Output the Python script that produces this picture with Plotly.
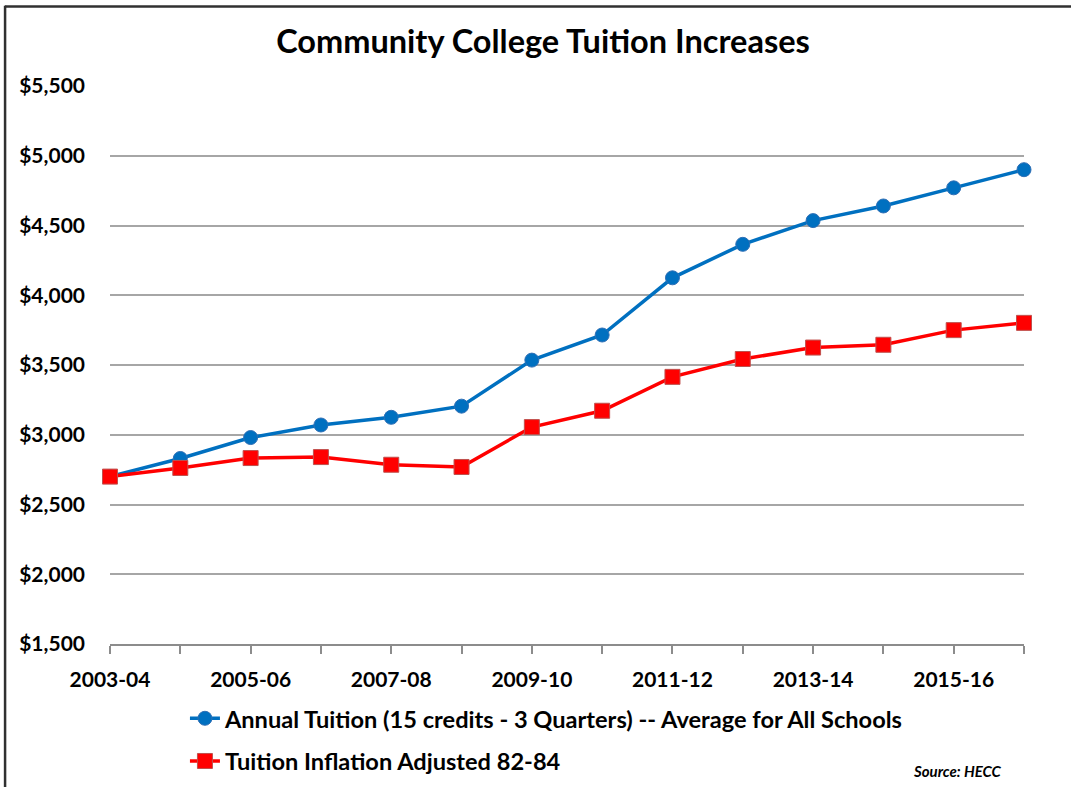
import plotly.graph_objects as go

years = ["2003-04", "2004-05", "2005-06", "2006-07", "2007-08", "2008-09", "2009-10",
         "2010-11", "2011-12", "2012-13", "2013-14", "2014-15", "2015-16", "2016-17"]
annual_tuition = [2700, 2830, 2980, 3070, 3125, 3205, 3535, 3715, 4125, 4365, 4535, 4640, 4770, 4900]
inflation_adjusted = [2700, 2762, 2833, 2840, 2785, 2769, 3055, 3172, 3415, 3543, 3625, 3645, 3750, 3802]
tick_labels = [y if i % 2 == 0 else "" for i, y in enumerate(years)]

FONT = "Lato"

fig = go.Figure()
fig.add_trace(go.Scatter(
    x=years, y=annual_tuition, mode="lines+markers",
    name="Annual Tuition (15 credits - 3 Quarters) -- Average for All Schools",
    line=dict(color="#0070C0", width=3.5),
    marker=dict(symbol="circle", size=14, color="#0070C0", line=dict(color="#2F6FB5", width=1)),
    legendgroup="a", cliponaxis=False,
))
fig.add_trace(go.Scatter(
    x=years, y=inflation_adjusted, mode="lines+markers",
    name="Tuition Inflation Adjusted 82-84",
    line=dict(color="#FF0000", width=3.5),
    marker=dict(symbol="square", size=15, color="#FF0000", line=dict(color="#C0504D", width=1)),
    legendgroup="b", cliponaxis=False,
))

fig.update_layout(
    width=1071, height=787,
    margin=dict(l=110, r=47, t=86, b=143, autoexpand=False),
    paper_bgcolor="white", plot_bgcolor="white",
    font=dict(family=FONT, color="black", weight="bold"),
    title=dict(text="Community College Tuition Increases", x=0.507, xanchor="center",
               y=0.947, yanchor="middle",
               font=dict(size=32.5, family=FONT, color="black", weight="bold")),
    showlegend=True,
    legend=dict(x=0.082, y=-0.094, xanchor="left", yanchor="top", orientation="v",
                font=dict(size=23.6, family=FONT, color="black", weight="bold"), tracegroupgap=9,
                bgcolor="rgba(0,0,0,0)", itemwidth=30),
    xaxis=dict(type="category", range=[0, 13], tickmode="array", tickvals=years,
               ticktext=tick_labels, showgrid=False, showline=True, linecolor="#8C8C8C",
               linewidth=1.5, ticks="outside", ticklen=8, tickcolor="#8C8C8C", tickwidth=1.5,
               tickfont=dict(size=21, family=FONT, color="black", weight="bold"),
               ticklabelstandoff=8),
    yaxis=dict(range=[1500, 5500], dtick=500, tick0=1500, tickformat="$,.0f",
               showgrid=True, gridcolor="#A6A6A6", gridwidth=1.5, zeroline=False,
               showline=False, ticks="", ticklabelstandoff=24,
               tickfont=dict(size=21, family=FONT, color="black", weight="bold")),
    shapes=[
        # frame edges along the top and left of the chart area
        dict(type="line", xref="paper", yref="paper", x0=-0.115, x1=1.06, y0=1.1425, y1=1.1425,
             line=dict(color="#303030", width=2.5), layer="below"),
        dict(type="line", xref="paper", yref="paper", x0=-0.1148, x1=-0.1148, y0=1.144, y1=-0.27,
             line=dict(color="#303030", width=2.5), layer="below"),
    ],
    annotations=[dict(text="<i>Source: HECC</i>", xref="paper", yref="paper",
                      x=0.9785, y=-0.228, xanchor="right", yanchor="middle", showarrow=False,
                      font=dict(size=15, family=FONT, color="black", weight="bold"))],
)

fig.write_html("out.html")
